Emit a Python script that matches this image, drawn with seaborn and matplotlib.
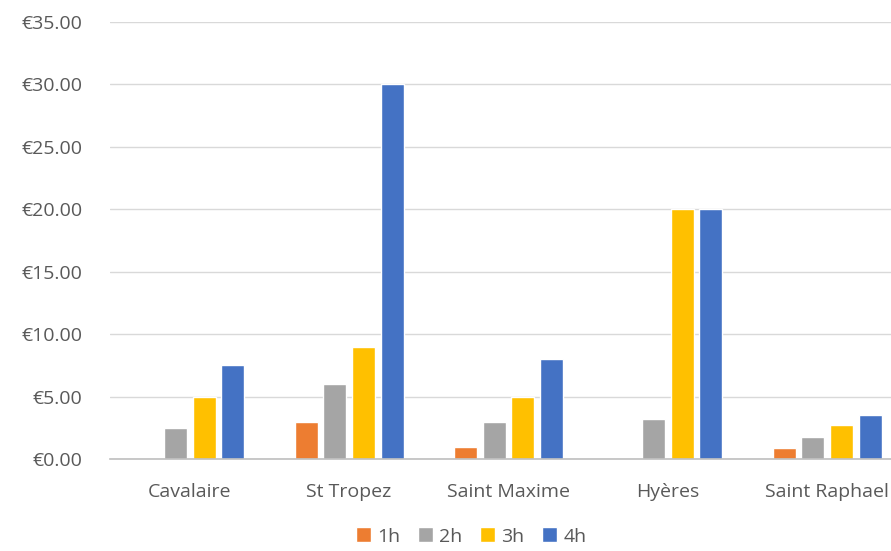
import matplotlib
matplotlib.use("Agg")
import matplotlib.pyplot as plt
import seaborn as sns
import pandas as pd
from matplotlib.ticker import FuncFormatter

towns = ["Cavalaire", "St Tropez", "Saint Maxime", "Hyères", "Saint Raphael"]
durations = ["1h", "2h", "3h", "4h"]
price_1h = [0, 3.0, 1.0, 0, 0.9]
price_2h = [2.5, 6.0, 3.0, 3.2, 1.8]
price_3h = [5.0, 9.0, 5.0, 20.0, 2.7]
price_4h = [7.5, 30.0, 8.0, 20.0, 3.5]
colors = ["#ED7D31", "#A5A5A5", "#FFC000", "#4472C4"]

rows = []
for d, vals in zip(durations, [price_1h, price_2h, price_3h, price_4h]):
    for t, v in zip(towns, vals):
        rows.append({"town": t, "duration": d, "price": v})
df = pd.DataFrame(rows)

sns.set_theme(style="white")
plt.rcParams["font.family"] = ["Open Sans", "DejaVu Sans"]

fig = plt.figure(figsize=(8.91, 5.51), dpi=100)
ax = fig.add_axes([110/891, (551-459)/551, (907-110)/891, (459-22)/551])
sns.barplot(data=df, x="town", y="price", hue="duration", order=towns,
            hue_order=durations, palette=colors, width=0.72, gap=0.2,
            saturation=1, ax=ax, errorbar=None)

ax.set_xlim(-0.5, 4.5)
ax.set_ylim(0, 35)
ax.set_yticks(range(0, 36, 5))
ax.yaxis.set_major_formatter(FuncFormatter(lambda v, p: f"€{v:.2f}"))
ax.grid(axis="y", color="#d9d9d9", linewidth=1)
ax.set_axisbelow(True)
for s in ["top", "right", "left"]:
    ax.spines[s].set_visible(False)
ax.spines["bottom"].set_color("#bfbfbf")
ax.spines["bottom"].set_linewidth(1.2)
ax.tick_params(axis="both", length=0, labelsize=14, colors="#595959")
ax.tick_params(axis="x", pad=17)
ax.tick_params(axis="y", pad=20)
ax.set_xlabel("")
ax.set_ylabel("")

leg = ax.legend(loc="lower center", bbox_to_anchor=(471/891, -0.022), bbox_transform=fig.transFigure,
                ncol=4, frameon=False, handlelength=0.8, handleheight=0.8,
                handletextpad=0.3, columnspacing=0.9, fontsize=14)
for t in leg.get_texts():
    t.set_color("#595959")

fig.savefig("out.png", dpi=100)
